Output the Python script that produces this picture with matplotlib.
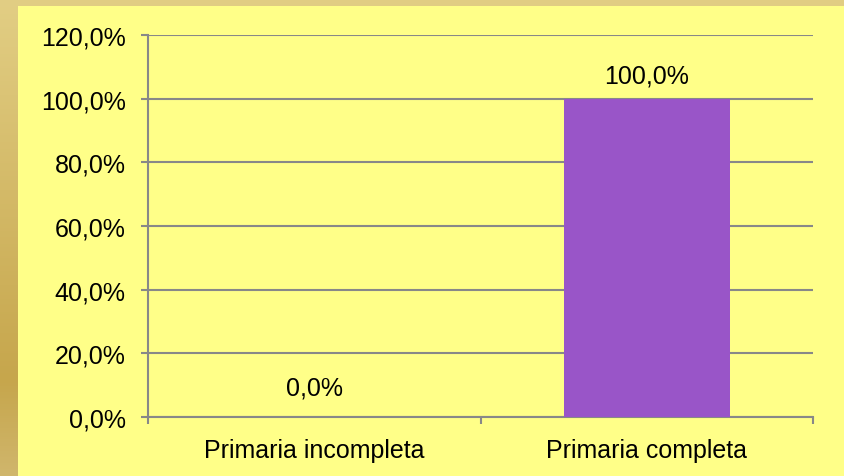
import matplotlib
matplotlib.use("Agg")
import matplotlib.pyplot as plt
import numpy as np
from matplotlib.patches import Rectangle
from matplotlib.ticker import FuncFormatter

categories = ["Primaria incompleta", "Primaria completa"]
values = [0.0, 100.0]
yticks = [0, 20, 40, 60, 80, 100, 120]

plt.rcParams['font.family'] = ['Liberation Sans', 'DejaVu Sans']

W, H = 844, 477
fig = plt.figure(figsize=(W/100, H/100), dpi=100)

# background with gradient
bg = fig.add_axes([0, 0, 1, 1], zorder=0)
bg.set_axis_off()
c_top = np.array([0xE2, 0xCE, 0x84]) / 255
c_mid = np.array([0xC6, 0xA6, 0x4C]) / 255
c_bot = np.array([0xD0, 0xB6, 0x6C]) / 255
n = 256
t = np.linspace(0, 1, n)
grad = np.zeros((n, 1, 3))
for i, tt in enumerate(t):
    if tt < 0.8:
        f = tt / 0.8
        grad[i, 0] = c_top * (1 - f) + c_mid * f
    else:
        f = (tt - 0.8) / 0.2
        grad[i, 0] = c_mid * (1 - f) + c_bot * f
bg.imshow(grad, aspect='auto', extent=[0, 1, 0, 1], origin='upper')
bg.set_xlim(0, 1)
bg.set_ylim(0, 1)
bg.add_patch(Rectangle((18/W, 0), 1 - 18/W, 1 - 7/H, facecolor='#FFFF88', edgecolor='none'))

left, right, top, bottom = 148, 813, 36, 418
ax = fig.add_axes([left/W, 1 - bottom/H, (right-left)/W, (bottom-top)/H], zorder=1)
ax.patch.set_alpha(0)

FS = 18
x = np.arange(len(categories))
bars = ax.bar(x, values, width=0.5, color='#9955C8', zorder=3)
ax.set_xlim(-0.5, len(categories) - 0.5)
ax.set_ylim(0, 120)
ax.set_yticks(yticks)
ax.yaxis.set_major_formatter(FuncFormatter(lambda v, p: f"{v:.1f}".replace('.', ',') + "%"))
ax.grid(axis='y', color='#888888', linewidth=1.5, zorder=1)
ax.set_axisbelow(True)

for s in ['top', 'right']:
    ax.spines[s].set_visible(False)
for s in ['left', 'bottom']:
    ax.spines[s].set_color('#888888')
    ax.spines[s].set_linewidth(1.5)

ax.set_xticks(x)
ax.set_xticklabels(categories)
ax.set_xticks([-0.5, 0.5, 1.5], minor=True)
ax.tick_params(axis='x', which='major', length=0, labelsize=FS, pad=15)
ax.tick_params(axis='x', which='minor', length=5, width=1.5, color='#888888')
ax.tick_params(axis='y', length=5, width=1.5, color='#888888', labelsize=FS, pad=11)

label_offsets = [21, 17]
for xi, v, off in zip(x, values, label_offsets):
    ax.annotate(f"{v:.1f}".replace('.', ',') + "%", (xi, v), xytext=(0, off),
                textcoords='offset points', ha='center', va='center', fontsize=FS)

fig.savefig("out.png", dpi=100)
